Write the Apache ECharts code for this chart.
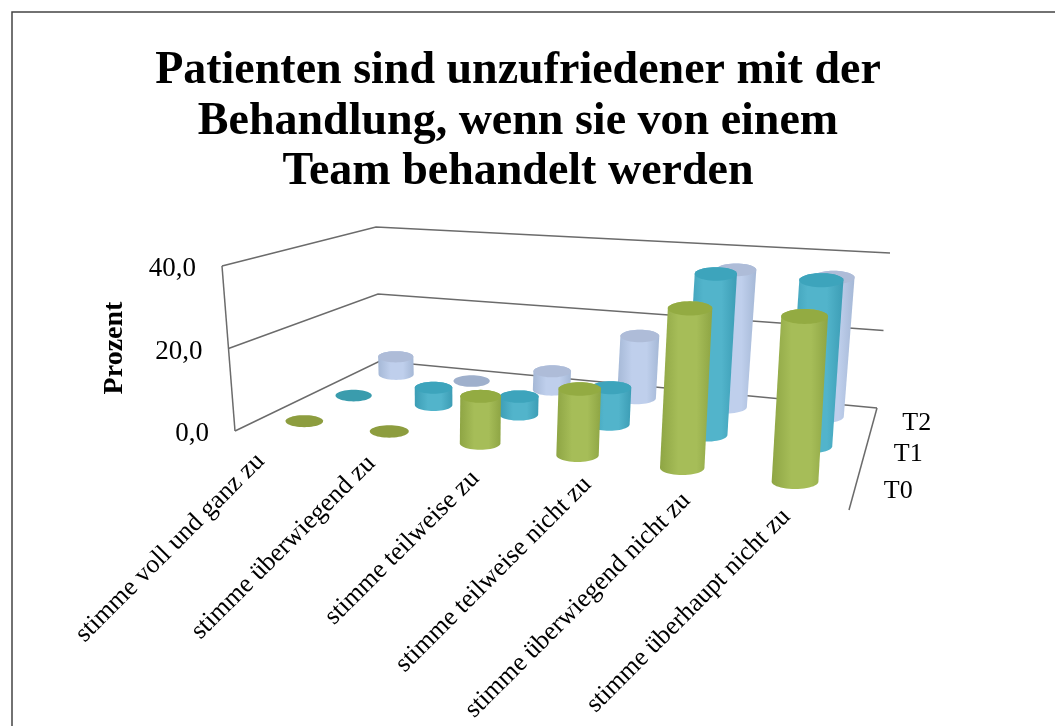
<!DOCTYPE html>
<html>
<head>
<meta charset="utf-8">
<style>
  html, body { margin: 0; padding: 0; background: #fff; }
  #chart { width: 1055px; height: 726px; }
</style>
<script src="https://cdn.jsdelivr.net/npm/echarts@6/dist/echarts.min.js"></script>
</head>
<body>
<div id="chart"></div>
<script>
// data
var categories = [
  "stimme voll und ganz zu",
  "stimme überwiegend zu",
  "stimme teilweise zu",
  "stimme teilweise nicht zu",
  "stimme überwiegend nicht zu",
  "stimme überhaupt nicht zu"
];
var rowNames = ["T0", "T1", "T2"];
var valueTicks = [0, 20, 40];
var t0Values = [0.2, 0.2, 11, 15, 35, 35];
var t1Values = [0.2, 4.5, 4.5, 9, 38.5, 38.5];
var t2Values = [5, 0.2, 5, 16.5, 35.5, 35];

// layout of the 3d box, front-left / front-right / back-right / back-left
var floorQuad = [[235, 431], [849, 510], [877, 408], [380, 361]];
var topQuad = [[222, 266], [860, 308], [890, 253], [376, 227]];
var labelNudge = [[-16, 21], [7, 12], [17, 15], [28, 8], [18, 10], [0, 11]];
var grid = { left: 100, top: 100, width: 600, height: 400 };

var serif = '"Liberation Serif", serif';
var rowStyles = [
  { edge: "#8ea544", mid: "#a6bd58", top: "#93ab42", flat: "#8d9d3f" },
  { edge: "#3c9db5", mid: "#52b4cb", top: "#3da4bc", flat: "#3a9cad" },
  { edge: "#a5b8d6", mid: "#bfcfec", top: "#aebcd8", flat: "#9fb0cc" }
];

function quadMap(q) {
  var x0 = q[0][0], y0 = q[0][1], x1 = q[1][0], y1 = q[1][1];
  var x2 = q[2][0], y2 = q[2][1], x3 = q[3][0], y3 = q[3][1];
  var dx1 = x1 - x2, dx2 = x3 - x2, sx = x0 - x1 + x2 - x3;
  var dy1 = y1 - y2, dy2 = y3 - y2, sy = y0 - y1 + y2 - y3;
  var det = dx1 * dy2 - dx2 * dy1;
  var g = (sx * dy2 - dx2 * sy) / det;
  var h = (dx1 * sy - sx * dy1) / det;
  var a = x1 - x0 + g * x1, b = x3 - x0 + h * x3;
  var d = y1 - y0 + g * y1, e = y3 - y0 + h * y3;
  return function (u, v) {
    var w = g * u + h * v + 1;
    return [(a * u + b * v + x0) / w, (d * u + e * v + y0) / w];
  };
}
var floorAt = quadMap(floorQuad);
var topAt = quadMap(topQuad);

// u along the categories, v into the depth, n up the value axis (all 0..1)
function project(u, v, n) {
  var f = floorAt(u, v), t = topAt(u, v);
  return [f[0] + (t[0] - f[0]) * n, f[1] + (t[1] - f[1]) * n];
}
// turn a grid pixel from the axes back into 0..1
function unitU(px) { return (px - grid.left) / grid.width; }
function unitN(py) { return (grid.top + grid.height - py) / grid.height; }
function rowDepth(k) { return (k + 0.5) / rowNames.length; }

// the cylinders keep level ellipses on screen, sized from the local column width
function ellipse(u, v, n) {
  var half = 0.5 / categories.length;
  var l = project(u - half, v, 0), r = project(u + half, v, 0);
  var band = Math.sqrt((r[0] - l[0]) * (r[0] - l[0]) + (r[1] - l[1]) * (r[1] - l[1]));
  var rx = 0.13 * band + 8;
  var ry = rx * 0.32, c = project(u, v, n), pts = [];
  for (var i = 0; i < 48; i++) {
    var a = i / 48 * Math.PI * 2;
    pts.push([c[0] + rx * Math.cos(a), c[1] + ry * Math.sin(a)]);
  }
  return pts;
}

function hull(points) {
  var p = points.slice().sort(function (a, b) { return a[0] - b[0] || a[1] - b[1]; });
  function cross(o, a, b) { return (a[0] - o[0]) * (b[1] - o[1]) - (a[1] - o[1]) * (b[0] - o[0]); }
  var lower = [], upper = [], i;
  for (i = 0; i < p.length; i++) {
    while (lower.length > 1 && cross(lower[lower.length - 2], lower[lower.length - 1], p[i]) <= 0) lower.pop();
    lower.push(p[i]);
  }
  for (i = p.length - 1; i >= 0; i--) {
    while (upper.length > 1 && cross(upper[upper.length - 2], upper[upper.length - 1], p[i]) <= 0) upper.pop();
    upper.push(p[i]);
  }
  return lower.slice(0, -1).concat(upper.slice(0, -1));
}

function renderBar(k) {
  return function (params, api) {
    var c = api.coord([api.value(0), api.value(1)]);
    var u = unitU(c[0]), n = unitN(c[1]), v = rowDepth(k), s = rowStyles[k];
    var topPts = ellipse(u, v, n);
    if (api.value(1) < 1) {
      return { type: "polygon", shape: { points: topPts }, style: { fill: s.flat } };
    }
    var body = hull(topPts.concat(ellipse(u, v, 0)));
    return {
      type: "group",
      children: [
        {
          type: "polygon",
          shape: { points: body },
          style: {
            fill: new echarts.graphic.LinearGradient(0, 0, 1, 0, [
              { offset: 0, color: s.edge },
              { offset: 0.35, color: s.mid },
              { offset: 0.7, color: s.mid },
              { offset: 1, color: s.edge }
            ])
          }
        },
        { type: "polygon", shape: { points: topPts }, style: { fill: s.top } }
      ]
    };
  };
}

function renderWall(params, api) {
  var tick = api.value(0);
  var n = unitN(api.coord([0, tick])[1]);
  var a = project(0, 0, n), b = project(0, 1, n), c = project(1, 1, n);
  var lineStyle = { stroke: "#6b6b6b", lineWidth: 1.5, fill: null };
  var children = [
    { type: "polyline", shape: { points: [a, b, c] }, style: lineStyle },
    {
      type: "text", x: a[0] - 26, y: a[1] + 3,
      style: { text: tick.toFixed(1).replace(".", ","), font: "27px " + serif, fill: "#000", textAlign: "right", textVerticalAlign: "middle" }
    }
  ];
  if (tick === 0) {
    children.push({ type: "polyline", shape: { points: [project(1, 1, 0), project(1, 0, 0)] }, style: lineStyle });
    children.push({ type: "polyline", shape: { points: [project(0, 0, 0), project(0, 0, 1)] }, style: lineStyle });
  }
  return { type: "group", children: children };
}

function renderCategory(params, api) {
  var i = api.value(0);
  var p = project(unitU(api.coord([i, 0])[0]), 0, 0);
  return {
    type: "text",
    x: p[0] + labelNudge[i][0],
    y: p[1] + labelNudge[i][1],
    rotation: Math.PI / 4,
    style: { text: categories[i], font: "26px " + serif, fill: "#000", textAlign: "right", textVerticalAlign: "middle" }
  };
}

function renderRowName(params, api) {
  var k = api.value(0);
  var p = project(1, rowDepth(k), 0);
  return {
    type: "text", x: p[0] + 29, y: p[1] + 2,
    style: { text: rowNames[k], font: "26px " + serif, fill: "#000", textAlign: "left", textVerticalAlign: "middle" }
  };
}

function barData(values) {
  return values.map(function (v, i) { return [i, v]; });
}
function customSeries(name, data, render) {
  return {
    type: "custom", name: name, data: data, renderItem: render,
    coordinateSystem: "cartesian2d", clip: false, silent: true,
    encode: { x: 0, y: 1 }
  };
}

var chart = echarts.init(document.getElementById("chart"));
chart.setOption({
  animation: false,
  backgroundColor: "#fff",
  title: {
    text: "Patienten sind unzufriedener mit der\nBehandlung, wenn sie von einem\nTeam behandelt werden",
    left: 513, top: 41, textAlign: "center",
    textStyle: { fontFamily: serif, fontWeight: "bold", fontSize: 46, lineHeight: 50.5, color: "#000" }
  },
  grid: grid,
  xAxis: { type: "category", data: categories, show: false },
  yAxis: { type: "value", min: 0, max: 40, interval: 20, show: false },
  graphic: [
    { type: "polyline", shape: { points: [[12, 726], [12, 12], [1055, 12]] }, style: { stroke: "#444", lineWidth: 1.5, fill: null } },
    {
      type: "text", x: 115, y: 348, rotation: Math.PI / 2,
      style: { text: "Prozent", font: "bold 28px " + serif, fill: "#000", textAlign: "center", textVerticalAlign: "middle" }
    }
  ],
  series: [
    customSeries("walls", valueTicks.map(function (t) { return [t]; }), renderWall),
    customSeries("T2", barData(t2Values), renderBar(2)),
    customSeries("T1", barData(t1Values), renderBar(1)),
    customSeries("T0", barData(t0Values), renderBar(0)),
    customSeries("categories", categories.map(function (c, i) { return [i, 0]; }), renderCategory),
    customSeries("rows", rowNames.map(function (r, k) { return [k, 0]; }), renderRowName)
  ]
});
</script>
</body>
</html>
